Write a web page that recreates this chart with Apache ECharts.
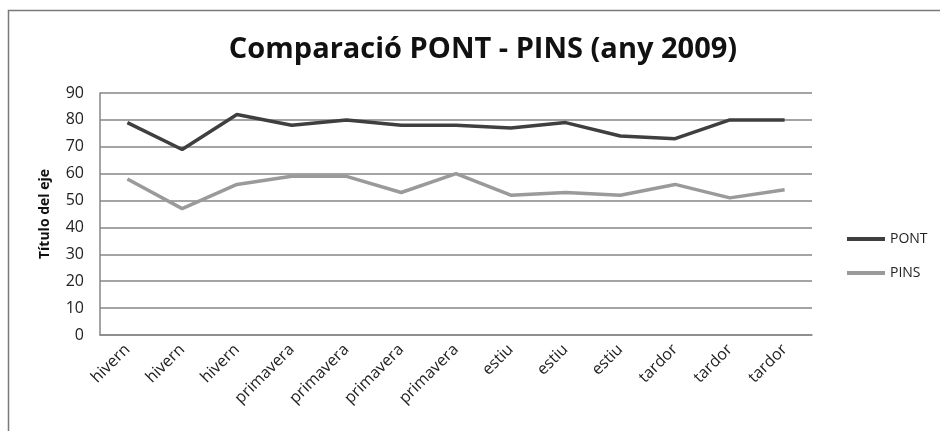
<!DOCTYPE html>
<html>
<head>
<meta charset="utf-8">
<script src="https://cdn.jsdelivr.net/npm/echarts@6/dist/echarts.min.js"></script>
<style>
  html, body { margin: 0; padding: 0; background: #fff; }
  #chart { width: 940px; height: 431px; }
</style>
</head>
<body>
<div id="chart"></div>
<script>
// Seasons of 2009, three or four readings each
const categories = ['hivern', 'hivern', 'hivern', 'primavera', 'primavera', 'primavera', 'primavera',
  'estiu', 'estiu', 'estiu', 'tardor', 'tardor', 'tardor'];
const pont = [79, 69, 82, 78, 80, 78, 78, 77, 79, 74, 73, 80, 80];
const pins = [58, 47, 56, 59, 59, 53, 60, 52, 53, 52, 56, 51, 54];
const yTicks = [0, 10, 20, 30, 40, 50, 60, 70, 80, 90];

const font = '"Open Sans", "DejaVu Sans", sans-serif';
const chart = echarts.init(document.getElementById('chart'));

chart.setOption({
  animation: false,
  backgroundColor: '#fff',
  textStyle: { fontFamily: font },
  title: {
    text: 'Comparació PONT - PINS (any 2009)',
    left: 478,
    top: 30,
    textAlign: 'center',
    textStyle: { fontFamily: font, fontSize: 29, fontWeight: 'bold', color: '#111' }
  },
  graphic: [{
    type: 'rect',
    shape: { x: 8.5, y: 10.5, width: 1000, height: 1000 },
    style: { fill: 'none', stroke: '#7a7a7a', lineWidth: 1.5 },
    silent: true
  }],
  legend: {
    orient: 'vertical',
    left: 842,
    top: 227,
    itemGap: 20,
    icon: 'rect',
    itemWidth: 38,
    itemHeight: 4,
    itemStyle: { borderWidth: 0 },
    textStyle: { fontFamily: font, fontSize: 14, color: '#222' },
    data: ['PONT', 'PINS']
  },
  grid: { left: 100, right: 128, top: 93, bottom: 96 },
  xAxis: {
    type: 'category',
    data: categories,
    boundaryGap: true,
    axisLine: { lineStyle: { color: '#868686', width: 1.5 } },
    axisTick: { show: false },
    axisLabel: { rotate: 45, interval: 0, margin: 12, fontSize: 16, color: '#222', fontFamily: font }
  },
  yAxis: {
    type: 'value',
    min: yTicks[0],
    max: yTicks[yTicks.length - 1],
    interval: 10,
    name: 'Título del eje',
    nameLocation: 'middle',
    nameGap: 48,
    nameRotate: 90,
    nameTextStyle: { fontFamily: font, fontSize: 14, fontWeight: 'bold', color: '#111' },
    axisLine: { show: true, lineStyle: { color: '#868686', width: 1.5 } },
    axisTick: { show: false },
    axisLabel: { fontSize: 16, color: '#222', margin: 16, fontFamily: font },
    splitLine: { lineStyle: { color: '#868686', width: 1.5 } }
  },
  series: [
    {
      name: 'PONT',
      type: 'line',
      data: pont,
      symbol: 'none',
      color: '#3f3f3f',
      lineStyle: { width: 3.5, color: '#3f3f3f' }
    },
    {
      name: 'PINS',
      type: 'line',
      data: pins,
      symbol: 'none',
      color: '#9a9a9a',
      lineStyle: { width: 3.5, color: '#9a9a9a' }
    }
  ]
});
</script>
</body>
</html>
